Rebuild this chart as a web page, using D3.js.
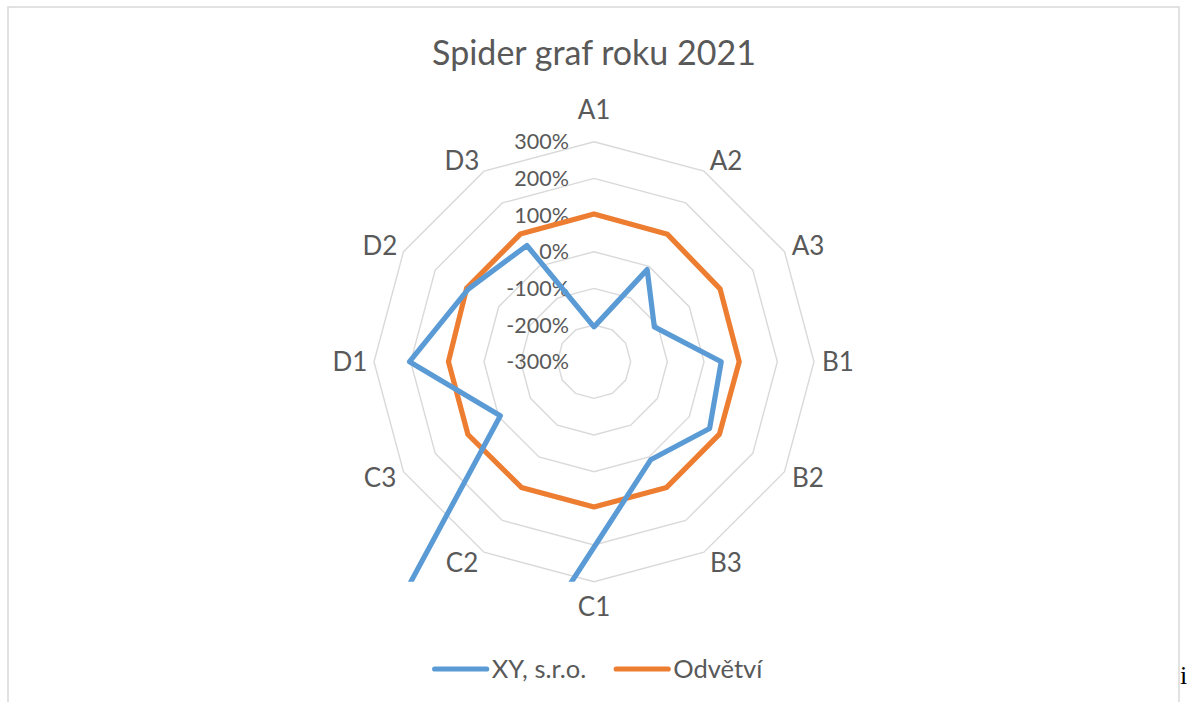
<!DOCTYPE html>
<html>
<head>
<meta charset="utf-8">
<script src="https://cdn.jsdelivr.net/npm/d3@7"></script>
<style>
body{margin:0;background:#fff;}
svg{display:block;}
text{font-family:Lato,"Open Sans",sans-serif;}
</style>
</head>
<body>
<div id="graphHolder"></div>
<script>
// data
var categories = ["A1","A2","A3","B1","B2","B3","C1","C2","C3","D1","D2","D3"];
var xyValues = [-205,-10,-110,47,64,9,206,5000,-5,203,96,66];
var odvetviValues = [103,101,97,96,95,96,96,96,97,97,101,102];
var tickValues = [-300,-200,-100,0,100,200,300];
var seriesNames = ["XY, s.r.o.","Odvětví"];
var seriesColors = ["#5B9BD5","#ED7D31"];

var W = 1187, H = 702;
var cx = 594, cy = 361.7, R = 220;
var textColor = "#595959";

var svg = d3.select("#graphHolder")
	.append("svg")
	.attr("width",W)
	.attr("height",H);

// chart border (bottom edge runs off the page)
svg.append("rect")
	.attr("x",8).attr("y",7)
	.attr("width",1171).attr("height",720)
	.style("fill","#fff")
	.style("stroke","#d9d9d9")
	.style("stroke-width",1.5);

svg.append("text")
	.text("Spider graf roku 2021")
	.attr("x",cx)
	.attr("y",65)
	.attr("text-anchor","middle")
	.style("font-size","34px")
	.style("fill",textColor);

var rScale = d3.scaleLinear()
	.domain([d3.min(tickValues),d3.max(tickValues)])
	.range([0,R]);
var step = 2*Math.PI/categories.length;

var g = svg.append("g")
	.attr("transform","translate("+cx+","+cy+")");

// rings
g.selectAll(".ring")
	.data(tickValues.filter(function(t){return t>d3.min(tickValues);}))
	.enter()
	.append("path")
	.attr("class","ring")
	.attr("d",function(t){
		var ring = d3.lineRadial()
			.angle(function(d,i){return i*step;})
			.radius(rScale(t))
			.curve(d3.curveLinearClosed);
		return ring(categories);
	})
	.style("fill","none")
	.style("stroke","#d9d9d9")
	.style("stroke-width",1.4);

// tick labels
g.selectAll(".tick")
	.data(tickValues)
	.enter()
	.append("text")
	.attr("class","tick")
	.text(function(d){return d+"%";})
	.attr("x",569-cx)
	.attr("y",function(d){return -rScale(d)+7.5;})
	.attr("text-anchor","end")
	.style("font-size","21.5px")
	.style("fill",textColor);

// category labels
g.selectAll(".cat")
	.data(categories)
	.enter()
	.append("text")
	.attr("class","cat")
	.text(function(d){return d;})
	.attr("x",function(d,i){
		var s = Math.sin(i*step);
		var off = Math.abs(s)<0.01 ? 0 : (s>0 ? 20 : -20);
		return s*224+off;
	})
	.attr("y",function(d,i){
		var c = Math.cos(i*step);
		var s = Math.sin(i*step);
		var extra = Math.abs(s)<0.01 ? (-c*16.75-3.25) : 0;
		return -c*232+extra+9.3;
	})
	.attr("text-anchor","middle")
	.style("font-size","26px")
	.style("fill",textColor);

// series lines, clipped at the plot area bottom
svg.append("clipPath")
	.attr("id","plotClip")
	.append("rect")
	.attr("x",-cx).attr("y",-cy)
	.attr("width",W).attr("height",581.7);

var radarLine = d3.lineRadial()
	.angle(function(d,i){return i*step;})
	.radius(function(d){return rScale(d);})
	.curve(d3.curveLinearClosed);

// orange drawn first, blue on top
var series = [xyValues,odvetviValues];
g.append("g")
	.attr("clip-path","url(#plotClip)")
	.selectAll("path")
	.data([1,0])
	.enter()
	.append("path")
	.attr("d",function(k){return radarLine(series[k]);})
	.style("fill","none")
	.style("stroke",function(k){return seriesColors[k];})
	.style("stroke-width",5.2)
	.style("stroke-linejoin","round")
	.style("stroke-linecap","round");

// legend
var legend = svg.append("g");
var lx = 0;
seriesNames.forEach(function(name,i){
	legend.append("line")
		.attr("x1",lx+2).attr("x2",lx+54)
		.attr("y1",669).attr("y2",669)
		.style("stroke",seriesColors[i])
		.style("stroke-width",5.2)
		.style("stroke-linecap","round");
	var t = legend.append("text")
		.text(name)
		.attr("x",lx+59)
		.attr("y",678)
		.style("font-size","25.5px")
		.style("fill",textColor);
	lx += 59+t.node().getComputedTextLength()+28;
});
lx -= 28;
legend.attr("transform","translate("+(597.5-lx/2)+",0)");

// stray character from the source page
svg.append("text")
	.text("i")
	.attr("x",1180)
	.attr("y",684)
	.style("font-family","'Liberation Serif',serif")
	.style("font-size","26px")
	.style("fill","#000");
</script>
</body>
</html>
